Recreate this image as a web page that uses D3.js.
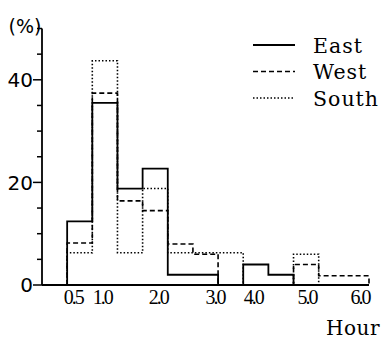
<!DOCTYPE html>
<html>
<head>
<meta charset="utf-8">
<script src="https://cdn.jsdelivr.net/npm/d3@7"></script>
<style>
  html, body { margin: 0; padding: 0; background: #fff; }
  svg { display: block; }
</style>
</head>
<body>
<svg id="chart" width="388" height="339"></svg>
<script>
// Share of trips by duration, 0.5-hour classes
const binStarts = [0.5, 1.0, 1.5, 2.0, 2.5, 3.0, 3.5, 4.0, 4.5, 5.0, 5.5, 6.0];
const binWidth = 0.5;
const east  = [12.4, 35.5, 18.8, 22.7, 2.0, 2.0, 0, 4.0, 2.0, 0, 0, 0];
const west  = [8.2, 37.4, 16.4, 14.5, 8.0, 6.0, 0, 0, 0, 4.0, 1.8, 1.8];
const south = [6.3, 43.7, 6.3, 18.8, 6.3, 6.3, 6.3, 0, 0, 6.0, 0, 0];

const seriesNames = ["East", "West", "South"];
const seriesDash = ["none", "5,3", "1.5,2"];

// hour labels along the axis and where they are printed
const xTickLabels = ["0.5", "1.0", "2.0", "3.0", "4.0", "5.0", "6.0"];
const xTickAt = [0.62, 1.2, 2.31, 3.44, 4.2, 5.27, 6.32];
const yTicks = [0, 5, 10, 15, 20, 25, 30, 35, 40, 45, 50];
const yLabelTicks = [0, 20, 40];

const svg = d3.select("#chart");
const x = d3.scaleLinear().domain([0, 6.5]).range([42, 369]);
const y = d3.scaleLinear().domain([0, 50]).range([285, 28.5]);

const serif = "DejaVu Serif";

// y axis
const yAxis = svg.append("g").attr("transform", `translate(${x(0)},0)`);
yAxis.append("line")
  .attr("x1", 0).attr("x2", 0)
  .attr("y1", y(50)).attr("y2", y(0))
  .attr("stroke", "#000").attr("stroke-width", 1.8);
yAxis.selectAll("line.tick").data(yTicks).enter().append("line")
  .attr("class", "tick")
  .attr("x1", d => yLabelTicks.includes(d) ? -9 : -5).attr("x2", 0)
  .attr("y1", d => y(d)).attr("y2", d => y(d))
  .attr("stroke", "#000").attr("stroke-width", 1.5);
yAxis.selectAll("text").data(yLabelTicks).enter().append("text")
  .attr("x", -9).attr("y", d => y(d))
  .attr("dy", "0.36em")
  .attr("text-anchor", "end")
  .attr("font-family", "DejaVu Sans")
  .attr("font-size", 20)
  .text(d => d);

svg.append("text")
  .attr("x", 25).attr("y", 33)
  .attr("text-anchor", "middle")
  .attr("font-family", "DejaVu Sans")
  .attr("font-size", 19)
  .text("(%)");

// x axis
svg.append("line")
  .attr("x1", x(0)).attr("x2", x(6.5))
  .attr("y1", y(0)).attr("y2", y(0))
  .attr("stroke", "#000").attr("stroke-width", 1.8);
svg.selectAll("text.xlab").data(xTickLabels).enter().append("text")
  .attr("class", "xlab")
  .attr("x", (d, i) => x(xTickAt[i]))
  .attr("y", 304)
  .attr("text-anchor", "middle")
  .attr("font-family", "Liberation Serif")
  .attr("font-size", 20)
  .attr("letter-spacing", -2)
  .text(d => d);
svg.append("text")
  .attr("x", 353).attr("y", 335)
  .attr("text-anchor", "middle")
  .attr("font-family", serif)
  .attr("font-size", 20)
  .attr("letter-spacing", 0.5)
  .text("Hour");

// step outlines of the three histograms
function outline(vals) {
  const pts = [[binStarts[0], 0]];
  vals.forEach((v, i) => {
    pts.push([binStarts[i], v]);
    pts.push([binStarts[i] + binWidth, v]);
  });
  pts.push([binStarts[binStarts.length - 1] + binWidth, 0]);
  return pts;
}
const line = d3.line().x(d => x(d[0])).y(d => y(d[1]));
[east, west, south].forEach((vals, k) => {
  svg.append("path")
    .attr("d", line(outline(vals)))
    .attr("fill", "none")
    .attr("stroke", "#000")
    .attr("stroke-width", k === 0 ? 1.8 : 1.6)
    .attr("stroke-dasharray", seriesDash[k]);
});

// legend
const legend = svg.append("g");
seriesNames.forEach((name, k) => {
  const ly = 45 + k * 26.5;
  legend.append("line")
    .attr("x1", 253).attr("x2", 295)
    .attr("y1", ly).attr("y2", ly)
    .attr("stroke", "#000")
    .attr("stroke-width", k === 0 ? 1.8 : 1.3)
    .attr("stroke-dasharray", seriesDash[k]);
  legend.append("text")
    .attr("x", 313).attr("y", ly + 7.5)
    .attr("font-family", serif)
    .attr("font-size", 20.5)
    .attr("letter-spacing", 1)
    .text(name);
});
</script>
</body>
</html>
